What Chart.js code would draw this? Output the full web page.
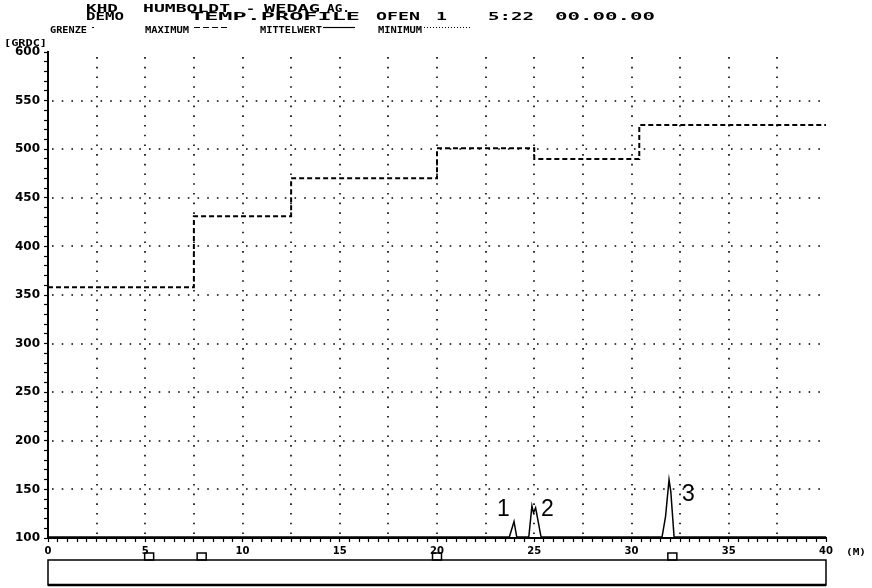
<!DOCTYPE html>
<html>
<head>
<meta charset="utf-8">
<script src="https://cdn.jsdelivr.net/npm/chart.js@4/dist/chart.umd.min.js"></script>
<style>
  body { margin: 0; background: #fff; }
  canvas { display: block; }
</style>
</head>
<body>
<canvas id="chart" width="872" height="588"></canvas>
<script>
// kiln temperature profile
var stepPos = [0, 7.5, 12.5, 20, 25, 30.4, 40];
var maxTemp = [358, 431, 470, 501, 490, 525, 524];

var meanPos = [0, 23.72, 23.96, 24.1, 24.72, 24.88, 24.96, 25.07, 25.35, 31.57, 31.75, 31.93, 32.02, 32.19, 40];
var meanTemp = [101, 101, 117, 101, 101, 133, 126, 131, 101, 101, 122, 160, 148, 101, 101];

var markerPos = [5.2, 7.9, 20.0, 32.1];
var xLabels = [0, 5, 10, 15, 20, 25, 30, 35, 40];
var yLabels = [100, 150, 200, 250, 300, 350, 400, 450, 500, 550, 600];

var titleWords1 = ['KHD', 'HUMBOLDT', '-', 'WEDAG', 'AG.'];
var titleWords2 = ['DEMO', 'TEMP.PROFILE', 'OFEN', '1', '5:22', '00.00.00'];
var legendNames = ['GRENZE', 'MAXIMUM', 'MITTELWERT', 'MINIMUM'];
var peakNames = ['1', '2', '3'];

function toPoints(xs, ys) {
    var pts = [];
    for (var i = 0; i < xs.length; i++) pts.push({ x: xs[i], y: ys[i] });
    return pts;
}

// plotter style text: squeeze/stretch a word into the given width
function fitText(ctx, txt, x, y, size, w) {
    ctx.save();
    ctx.font = 'bold ' + size + 'px "DejaVu Sans Mono"';
    ctx.textBaseline = 'alphabetic';
    var m = ctx.measureText(txt).width;
    ctx.translate(x, y);
    ctx.scale(w / m, 1);
    ctx.fillText(txt, 0, 0);
    ctx.restore();
}

function seg(ctx, x0, x1, y, dash) {
    ctx.setLineDash(dash);
    ctx.beginPath(); ctx.moveTo(x0, y); ctx.lineTo(x1, y); ctx.stroke();
    ctx.setLineDash([]);
}

var extras = {
    id: 'extras',
    beforeDatasetsDraw: function(chart) {
        // dotted grid, every 2.5 m and every 50 degrees
        var ctx = chart.ctx;
        var area = chart.chartArea;
        var xs = chart.scales.x, ys = chart.scales.y;
        ctx.save();
        ctx.strokeStyle = '#000';
        ctx.lineWidth = 1.6;
        ctx.setLineDash([1.6, 8.1]);
        xs.ticks.forEach(function(t) {
            if (t.value > 0 && t.value < 40 && t.value % 2.5 === 0) {
                var px = Math.round(xs.getPixelForValue(t.value));
                ctx.beginPath(); ctx.moveTo(px, area.bottom - 4); ctx.lineTo(px, area.top + 2); ctx.stroke();
            }
        });
        ys.ticks.forEach(function(t) {
            if (t.value > 100 && t.value < 600 && t.value % 50 === 0) {
                var py = Math.round(ys.getPixelForValue(t.value));
                ctx.beginPath(); ctx.moveTo(area.left + 4, py); ctx.lineTo(area.right, py); ctx.stroke();
            }
        });
        ctx.restore();
    },
    afterDraw: function(chart) {
        var ctx = chart.ctx;
        var xs = chart.scales.x;
        var area = chart.chartArea;
        ctx.save();
        ctx.fillStyle = '#000';
        ctx.strokeStyle = '#000';

        // header, word by word
        var h1x = [86, 143, 246, 264, 327], h1w = [32, 87, 9, 56, 23];
        titleWords1.forEach(function(w, i) { fitText(ctx, w, h1x[i], 12, 11, h1w[i]); });
        var h2x = [86, 190, 376, 436, 488, 555], h2w = [38, 170, 44, 11, 46, 100];
        titleWords2.forEach(function(w, i) { fitText(ctx, w, h2x[i], 20, 11, h2w[i]); });

        // legend row
        var legX = [50, 145, 260, 378], legW = [37, 44, 62, 44];
        legendNames.forEach(function(w, i) { fitText(ctx, w, legX[i], 33, 8, legW[i]); });
        ctx.lineWidth = 1.2;
        seg(ctx, 92, 94, 27.5, []);
        seg(ctx, 194, 230, 27.5, [6, 3]);
        seg(ctx, 323, 355, 27.5, []);
        seg(ctx, 424, 470, 27.5, [1, 2]);

        fitText(ctx, '[GRDC]', 4, 46, 9, 43);
        fitText(ctx, '(M)', 846, 555, 9, 20);

        // peak numbers written by hand on the print
        ctx.font = '23px "Liberation Sans"';
        ctx.textBaseline = 'alphabetic';
        ctx.fillText(peakNames[0], 497, 516);
        ctx.fillText(peakNames[1], 541, 516);
        ctx.fillText(peakNames[2], 682, 501);

        // position strip under the axis
        var x0 = xs.getPixelForValue(0);
        var x1 = xs.getPixelForValue(40);
        var top = area.bottom + 22;
        var bot = area.bottom + 47;
        ctx.lineWidth = 1.5;
        ctx.strokeRect(x0, top, x1 - x0, bot - top);
        ctx.lineWidth = 2.5;
        ctx.beginPath(); ctx.moveTo(x0, bot); ctx.lineTo(x1, bot); ctx.stroke();
        ctx.lineWidth = 1.5;
        markerPos.forEach(function(p) {
            var px = xs.getPixelForValue(p);
            ctx.strokeRect(px - 4.5, top - 7, 9, 7);
        });
        ctx.restore();
    }
};

new Chart(document.getElementById('chart'), {
    type: 'line',
    data: {
        datasets: [{
            label: 'MAXIMUM',
            data: toPoints(stepPos, maxTemp),
            stepped: 'before',
            borderColor: '#000',
            borderWidth: 2,
            borderDash: [5, 3],
            pointRadius: 0,
            fill: false
        }, {
            label: 'MITTELWERT',
            data: toPoints(meanPos, meanTemp),
            borderColor: '#000',
            borderWidth: 1.5,
            pointRadius: 0,
            tension: 0,
            fill: false
        }]
    },
    options: {
        responsive: false,
        animation: false,
        layout: { padding: { top: 52, right: 46, left: 0, bottom: 0 } },
        plugins: { legend: { display: false }, tooltip: { enabled: false } },
        scales: {
            x: {
                type: 'linear',
                min: 0,
                max: 40,
                afterFit: function(s) { s.height = 50; },
                border: { display: true, color: '#000', width: 2 },
                grid: {
                    drawOnChartArea: false,
                    tickColor: '#000',
                    tickWidth: 1.2,
                    tickLength: 4
                },
                ticks: {
                    stepSize: 0.5,
                    autoSkip: false,
                    maxRotation: 0,
                    padding: 3,
                    color: '#000',
                    font: { family: '"DejaVu Sans"', size: 10, weight: 'bold' },
                    callback: function(v) { return xLabels.indexOf(v) >= 0 ? String(v) : ''; }
                }
            },
            y: {
                type: 'linear',
                min: 100,
                max: 600,
                afterFit: function(s) { s.width = 48; },
                border: { display: true, color: '#000', width: 2 },
                grid: {
                    drawOnChartArea: false,
                    tickColor: '#000',
                    tickWidth: 1.2,
                    tickLength: 4
                },
                ticks: {
                    stepSize: 10,
                    autoSkip: false,
                    padding: 4,
                    color: '#000',
                    font: { family: '"DejaVu Sans"', size: 12, weight: 'bold' },
                    callback: function(v) { return yLabels.indexOf(v) >= 0 ? String(v) : ''; }
                }
            }
        }
    },
    plugins: [extras]
});
</script>
</body>
</html>
